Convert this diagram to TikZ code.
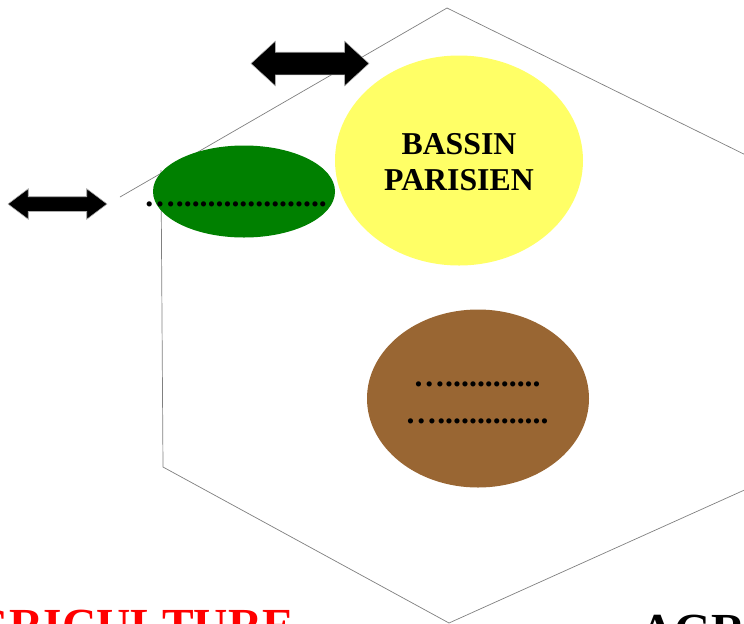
\documentclass[tikz,border=0pt]{standalone}
\usepackage{fontspec}
\setmainfont{Liberation Serif}
\usetikzlibrary{shapes.geometric,shapes.arrows}
\definecolor{bassin}{RGB}{255,255,102}
\definecolor{foret}{RGB}{0,128,0}
\definecolor{terre}{RGB}{153,102,51}
\tikzset{
  region/.style={ellipse,inner sep=0pt},
  fleche/.style={double arrow,fill=black,draw=gray!60,line width=0.3pt,inner xsep=0pt,anchor=center},
  points/.style={font=\fontsize{18.1}{18.1}\selectfont\bfseries,inner sep=0pt,anchor=base},
  titre/.style={font=\fontsize{27}{27}\selectfont\bfseries\addfontfeature{Kerning=Off},inner sep=0pt,anchor=base west}
}
\begin{document}
\begin{tikzpicture}[x=0.02cm,y=-0.02cm]
        \useasboundingbox (0,0) rectangle (744,623);
        \begin{scope}
        \clip (0,0) rectangle (744,623);
        \coordinate (h1) at (120,197);
        \coordinate (h2) at (447,8);
        \coordinate (h3) at (760,162);
        \coordinate (h4) at (760,483);
        \coordinate (h5) at (449,623);
        \coordinate (h6) at (163,467);
        \coordinate (h7) at (161,170);
        \draw [gray,line width=0.4pt] (h1) -- (h2) -- (h3);
        \draw [gray,line width=0.4pt] (h4) -- (h5) -- (h6) -- (h7);
        \node [region,fill=bassin,minimum width=248*0.02cm,minimum height=210*0.02cm] (bassin) at (459,160.5) {};
        \node [region,fill=foret,minimum width=182*0.02cm,minimum height=92*0.02cm] (foret) at (244,191.5) {};
        \node [region,fill=terre,minimum width=222*0.02cm,minimum height=178*0.02cm] (terre) at (478,398.5) {};
        \node [fleche,minimum height=118*0.02cm,inner ysep=11*0.02cm,double arrow head extend=11*0.02cm,double arrow tip angle=85] (f1) at (310,63.5) {};
        \node [fleche,minimum height=99*0.02cm,inner ysep=7*0.02cm,double arrow head extend=8*0.02cm,double arrow tip angle=74] (f2) at (57.5,204) {};
        \node [points] (p1) at (235.5,206) {…...................};
        \node [points] (p2) at (477,386) {…............};
        \node [points] (p3) at (477,423) {…..............};
        \node [font=\fontsize{18.1}{20.5}\selectfont\bfseries,align=center,inner sep=0pt] (nom) at (459,162) {BASSIN\\PARISIEN};
        \node [titre,text=red] (t1) at (-62,641) {AGRICULTURE};
        \node [titre] (t2) at (640,646) {AGRICULTURE};
        \end{scope}
    \end{tikzpicture}
\end{document}
